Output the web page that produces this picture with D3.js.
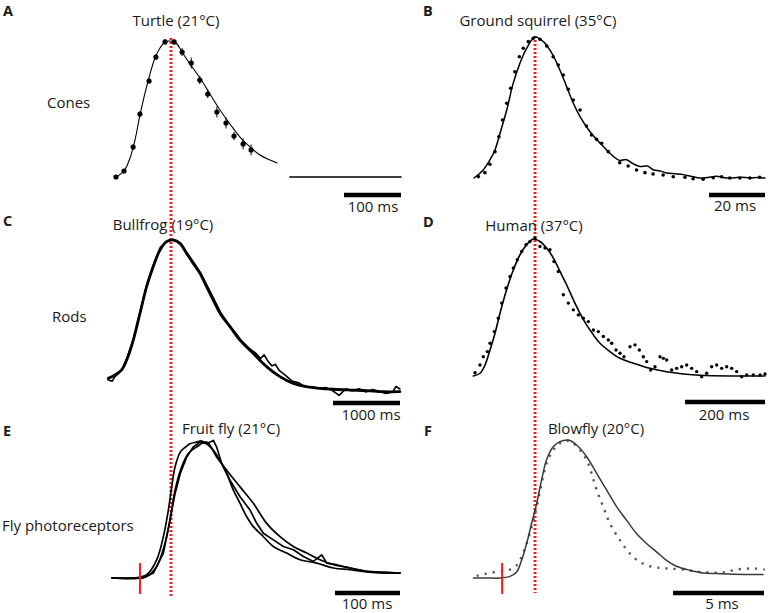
<!DOCTYPE html>
<html><head><meta charset="utf-8">
<script src="https://cdn.jsdelivr.net/npm/d3@7"></script>
<style>
body{margin:0;background:#fff}
text{font-family:"Open Sans",Lato,sans-serif;fill:#1a1a1a}
</style>
</head><body>
<svg id="c" width="768" height="613"></svg>
<script>
// ---------- DATA (time in ms, response normalised to peak) ----------
const panelLetters = ["A","B","C","D","E","F"];
const panelTitles = ["Turtle (21°C)","Ground squirrel (35°C)","Bullfrog (19°C)","Human (37°C)","Fruit fly (21°C)","Blowfly (20°C)"];
const rowLabels = ["Cones","Rods","Fly photoreceptors"];
const scaleBarMs = [100,20,1000,200,100,5];
const scaleBarLabels = ["100 ms","20 ms","1000 ms","200 ms","100 ms","5 ms"];

// A: turtle cone
const turtleFit = [[0,0],[14,0.044],[24.6,0.14],[33.3,0.272],[42.1,0.456],[50.9,0.618],[59.6,0.757],[68.4,0.875],[77.2,0.949],[86,0.993],[94.7,1.0],[105.3,0.985],[115.8,0.919],[129.8,0.831],[147.4,0.728],[164.9,0.61],[182.5,0.493],[200,0.39],[217.5,0.294],[235,0.221],[252.6,0.162],[270.2,0.125],[282.5,0.103]];
const turtleDots = [[0,0],[14,0.044],[30,0.22],[42,0.463],[58,0.706],[70,0.882],[86,0.993],[102,0.993],[116,0.919],[132,0.838],[147,0.713],[161,0.61],[177,0.478],[193,0.397],[207,0.301],[223,0.243],[237,0.199]];
const turtleErr = [0.01,0.015,0.02,0.02,0.02,0.02,0.02,0.02,0.03,0.04,0.03,0.03,0.04,0.04,0.03,0.04,0.04];
const turtleBaseline = [[305,0],[500,0]];
const turtlePeakMs = 96.5;

// B: ground squirrel cone
const squirrelFit = [[0,0],[3.3,0.057],[5.7,0.128],[7.5,0.199],[9.3,0.317],[11.7,0.482],[14,0.671],[16.4,0.813],[18.8,0.919],[21.8,1.0],[24.8,0.967],[27.8,0.885],[30.7,0.766],[33.1,0.648],[35.5,0.53],[37.9,0.436],[41.4,0.33],[45,0.248],[49.8,0.153],[52,0.125],[54.5,0.13],[57,0.1],[59.3,0.082],[62,0.085],[64,0.059],[66.5,0.05],[68.8,0.035],[72,0.03],[74.8,0.024],[78,0.01],[80.7,0],[83.5,0.004],[86.7,0.012],[89.5,0.002],[92.6,0],[95.5,0.006],[98.6,0],[101,0.004],[104,0]];
const squirrelDots = [[1.55,0.01],[3.9,0.038],[5.7,0.097],[7.5,0.187],[8.9,0.293],[10.2,0.411],[11.7,0.53],[13.1,0.636],[14.6,0.754],[16.2,0.86],[17.6,0.92],[19.4,0.967],[21.2,0.991],[23.6,0.984],[26,0.936],[28.3,0.86],[30.1,0.801],[31.9,0.73],[33.7,0.629],[35.5,0.553],[37.9,0.482],[40.2,0.369],[42,0.305],[43.8,0.274],[45.6,0.246],[48,0.187],[52.1,0.109],[55.1,0.085],[58.1,0.057],[61.1,0.038],[64,0.028],[67.6,0.021],[71.2,0.009],[75.4,0.005],[78.3,-0.005],[81.9,-0.009],[85.5,0.002],[88.5,0.009],[91.4,0],[95,0],[98.6,0],[102.1,0.005]];

// C: bullfrog rod (several superimposed records)
const bullfrogMean = [[5,0.09],[104,0.112],[204,0.145],[279,0.21],[378,0.342],[478,0.518],[577,0.693],[676,0.825],[776,0.934],[876,0.989],[975,1.0],[1075,0.978],[1174,0.912],[1274,0.846],[1373,0.781],[1473,0.693],[1572,0.605],[1672,0.518],[1821,0.43],[1970,0.342],[2169,0.254],[2368,0.167],[2567,0.101],[2766,0.057],[2965,0.035],[3164,0.024],[3363,0.018],[3612,0.013],[3861,0.009],[4109,0.002],[4358,0.002]];
const bullfrogTrace = [[0,0.08],[60,0.07],[100,0.1],[200,0.14],[280,0.22],[380,0.35],[480,0.53],[580,0.71],[680,0.84],[780,0.95],[880,0.995],[990,1.0],[1090,0.975],[1180,0.915],[1280,0.852],[1380,0.785],[1480,0.7],[1580,0.612],[1680,0.525],[1800,0.445],[1900,0.392],[2000,0.333],[2100,0.29],[2200,0.258],[2280,0.22],[2330,0.245],[2400,0.195],[2450,0.172],[2500,0.182],[2560,0.14],[2650,0.11],[2750,0.072],[2850,0.06],[2950,0.032],[3050,0.034],[3150,0.024],[3250,0.03],[3350,0.01],[3450,-0.022],[3550,0.02],[3650,0.008],[3750,0.022],[3850,0.0],[3950,0.016],[4050,0.004],[4150,-0.01],[4250,0.0],[4300,0.036],[4358,0.02]];

// D: human rod
const humanFit = [[0.8,0],[17.5,0.02],[30,0.08],[42.5,0.19],[55,0.312],[67.5,0.458],[84,0.629],[101,0.775],[117.5,0.885],[134,0.958],[151,1.0],[167.5,0.982],[184,0.934],[201,0.861],[217.5,0.763],[234,0.666],[251,0.556],[267.5,0.458],[284,0.373],[301,0.3],[317.5,0.239],[342.5,0.178],[367.5,0.129],[401,0.093],[442.5,0.056],[484,0.031],[526,0.015],[567.5,0.005],[651,0],[730,0]];
const humanDots = [[5,0.024],[17.5,0.08],[25.8,0.141],[35.8,0.178],[42.5,0.239],[53.3,0.324],[63.3,0.422],[71.7,0.532],[82.5,0.642],[92.5,0.726],[100.8,0.788],[110.8,0.849],[121.7,0.909],[132.5,0.958],[142.5,0.982],[155,1.007],[167.5,0.946],[180,0.934],[192.5,0.922],[202.5,0.836],[213.3,0.763],[225.8,0.593],[238.3,0.532],[250.8,0.483],[263.3,0.446],[275.8,0.422],[288.3,0.397],[300.8,0.336],[313.3,0.324],[325.8,0.288],[338.3,0.263],[346.7,0.239],[357.5,0.19],[367.5,0.166],[377.5,0.141],[392.5,0.214],[405,0.227],[415.8,0.19],[425.8,0.141],[434.2,0.105],[444.2,0.044],[455,0.068],[467.5,0.141],[475.8,0.129],[484.2,0.117],[496.7,0.044],[509.2,0.056],[521.7,0.068],[534.2,0.08],[546.7,0.056],[559.2,0.032],[571.7,-0.005],[584.2,0.02],[596.7,0.068],[609.2,0.08],[621.7,0.056],[634.2,0.068],[646.7,0.056],[659.2,0.032],[671.7,-0.005],[684.2,0.007],[700.8,0.007],[717.5,0.007],[730,0.015]];

// E: fruit fly photoreceptors (three records)
const fruitfly1 = [[0,0],[32.8,0],[53.3,0.024],[68.7,0.133],[79,0.302],[86.7,0.496],[91.8,0.665],[97,0.811],[105,0.919],[113,0.956],[120,0.98],[130,0.992],[138,1.0],[145.6,0.98],[155.9,0.932],[166,0.859],[176.4,0.763],[186.7,0.641],[197,0.545],[207.2,0.447],[217.4,0.375],[232.8,0.302],[248.2,0.23],[268.7,0.182],[289.2,0.133],[314.9,0.109],[340.5,0.073],[366.2,0.06],[391.8,0.044],[417.5,0.036],[443,0.036]];
const fruitfly2 = [[0,0],[48.2,0],[63.6,0.036],[79,0.182],[89.2,0.423],[97,0.617],[105,0.763],[115,0.883],[125,0.956],[135.4,0.992],[145.6,0.98],[155.9,1.004],[161,0.956],[168.7,0.835],[181.5,0.714],[197,0.593],[212.3,0.496],[222.6,0.399],[232.8,0.327],[248.2,0.278],[263.6,0.23],[279,0.206],[294.4,0.157],[309.7,0.121],[322.6,0.169],[330.3,0.109],[345.6,0.097],[366.2,0.073],[391.8,0.048],[443,0.036]];
const fruitfly3 = [[0,0],[53.3,0.012],[68.7,0.085],[81.5,0.254],[89.2,0.423],[97,0.641],[107.2,0.811],[117.4,0.908],[130,0.956],[145.6,0.992],[161,0.883],[176.4,0.787],[197,0.665],[217.4,0.545],[237.9,0.399],[258.5,0.302],[279,0.23],[299.5,0.182],[320,0.133],[340.5,0.097],[366.2,0.073],[391.8,0.048],[443,0.036]];
const fruitflyStimMs = 43;

// F: blowfly photoreceptor
const blowflySolid = [[0.02,0],[0.75,0],[1.48,0],[2.03,0.012],[2.4,0.044],[2.67,0.128],[2.95,0.25],[3.22,0.395],[3.5,0.54],[3.77,0.709],[4.04,0.855],[4.41,0.951],[4.78,0.988],[5.24,1.0],[5.7,0.964],[6.25,0.879],[6.8,0.758],[7.35,0.637],[7.9,0.516],[8.44,0.419],[8.99,0.322],[9.54,0.25],[10.09,0.189],[10.64,0.128],[11.19,0.085],[11.92,0.056],[12.65,0.036],[13.38,0.032],[14.3,0.027],[15.95,0.025]];
const blowflyDotted = [[0.2,0.015],[0.75,0.032],[1.48,0.049],[2.03,0.061],[2.4,0.092],[2.67,0.153],[2.95,0.25],[3.22,0.37],[3.5,0.516],[3.77,0.686],[4.04,0.831],[4.41,0.927],[4.78,0.976],[5.15,0.995],[5.51,0.976],[5.88,0.927],[6.25,0.855],[6.52,0.758],[6.8,0.637],[7.16,0.516],[7.53,0.395],[8.08,0.274],[8.63,0.177],[9.18,0.116],[9.73,0.085],[10.27,0.073],[10.82,0.068],[11.56,0.061],[12.47,0.044],[13.38,0.039],[13.93,0.044],[14.47,0.061],[15.02,0.068],[15.57,0.068],[16.04,0.061]];
const blowflyStimMs = 1.6;
const squirrelPeakMs = 21.8;

// ---------- LAYOUT ----------
const svg = d3.select("#c");
const panels = [
  {xd:[0,500],  xr:[116,401], yr:[177,41],  bar:195, lab:[373,212], letter:[3,16],   title:[176,26]},
  {xd:[0,104],  xr:[474,765], yr:[178,37],  bar:195, lab:[735,211], letter:[423,16], title:[538,26]},
  {xd:[0,4360], xr:[108,400], yr:[392,240], bar:403, lab:[371,420], letter:[3,226],  title:[163,230]},
  {xd:[0,730],  xr:[473,765], yr:[376,239], bar:402, lab:[724,420], letter:[423,227],title:[534,231]},
  {xd:[0,443],  xr:[112,400], yr:[578,441], bar:593, lab:[367,609], letter:[3,436],  title:[231,434]},
  {xd:[0,16],   xr:[473,764], yr:[578,440], bar:593, lab:[722,609], letter:[424,436],title:[596,434]}
];
panels.forEach(p=>{
  p.x = d3.scaleLinear().domain(p.xd).range(p.xr);
  p.y = d3.scaleLinear().domain([0,1]).range(p.yr);
  p.line = (curve)=>d3.line().x(d=>p.x(d[0])).y(d=>p.y(d[1])).curve(curve||d3.curveLinear);
});
const [A,B,C,D,E,F] = panels;

function path(p, data, curve, opts){
  const s = svg.append("path").attr("d", p.line(curve)(data)).attr("fill","none")
    .attr("stroke", opts.color||"#000").attr("stroke-width", opts.w||1.5)
    .attr("stroke-linejoin","round").attr("stroke-linecap","round");
  if (opts.dash) s.attr("stroke-dasharray", opts.dash).attr("stroke-linecap","butt");
  return s;
}
function dots(p, data, r, color){
  svg.append("g").selectAll("circle").data(data).join("circle")
    .attr("cx", d=>p.x(d[0])).attr("cy", d=>p.y(d[1])).attr("r", r).attr("fill", color||"#000");
}

// red dotted alignment lines (behind traces)
svg.append("line").attr("x1",A.x(turtlePeakMs)).attr("x2",A.x(turtlePeakMs)).attr("y1",38).attr("y2",596)
  .attr("stroke","#ff1a1a").attr("stroke-width",3).attr("stroke-dasharray","2,2");
svg.append("line").attr("x1",B.x(squirrelPeakMs)).attr("x2",B.x(squirrelPeakMs)).attr("y1",36).attr("y2",593)
  .attr("stroke","#ff1a1a").attr("stroke-width",3).attr("stroke-dasharray","2,2");

// A
path(A, turtleFit, d3.curveCatmullRom, {w:1.1});
path(A, turtleBaseline, null, {w:1.6});
svg.append("g").selectAll("line").data(turtleDots).join("line")
  .attr("x1",d=>A.x(d[0])).attr("x2",d=>A.x(d[0]))
  .attr("y1",(d,i)=>A.y(d[1]+turtleErr[i])).attr("y2",(d,i)=>A.y(d[1]-turtleErr[i]))
  .attr("stroke","#000").attr("stroke-width",1);
dots(A, turtleDots, 2.6);

// B
path(B, squirrelFit, d3.curveCatmullRom, {w:1.5});
dots(B, squirrelDots, 1.8);

// C
path(C, bullfrogTrace, d3.curveLinear, {w:1.6});
path(C, bullfrogMean, d3.curveCatmullRom, {w:2.8});

// D
path(D, humanFit, d3.curveCatmullRom, {w:1.6});
dots(D, humanDots, 1.7);

// E
path(E, fruitfly3, d3.curveCatmullRom, {w:1.7});
path(E, fruitfly2, d3.curveLinear, {w:1.7});
path(E, fruitfly1, d3.curveCatmullRom, {w:1.7});

// F
path(F, blowflyDotted, d3.curveCatmullRom, {w:2.4, color:"#555", dash:"2.2,6"});
path(F, blowflySolid, d3.curveCatmullRom, {w:1.5, color:"#3a3a3a"});

// red stimulus ticks
[[E,fruitflyStimMs],[F,blowflyStimMs]].forEach(([p,t])=>{
  svg.append("line").attr("x1",p.x(t)).attr("x2",p.x(t)).attr("y1",563).attr("y2",594)
    .attr("stroke","#ff1a1a").attr("stroke-width",2);
});

// scale bars
panels.forEach((p,i)=>{
  const end = p.xd[1], start = end - scaleBarMs[i];
  svg.append("line").attr("x1",p.x(start)).attr("x2",p.x(end)).attr("y1",p.bar).attr("y2",p.bar)
    .attr("stroke","#000").attr("stroke-width",4.5);
  svg.append("text").attr("x",p.lab[0]).attr("y",p.lab[1]).attr("text-anchor","middle")
    .attr("font-size",15).text(scaleBarLabels[i]);
  svg.append("text").attr("x",p.letter[0]).attr("y",p.letter[1]).attr("font-size",14.5)
    .attr("font-weight","bold").text(panelLetters[i]);
  svg.append("text").attr("x",p.title[0]).attr("y",p.title[1]).attr("text-anchor","middle")
    .attr("font-size",15).text(panelTitles[i]);
});

// row labels
const rowPos = [[47,108],[52,322],[2,531]];
rowLabels.forEach((t,i)=>svg.append("text").attr("x",rowPos[i][0]).attr("y",rowPos[i][1])
  .attr("font-size",15).text(t));
</script>
</body></html>
